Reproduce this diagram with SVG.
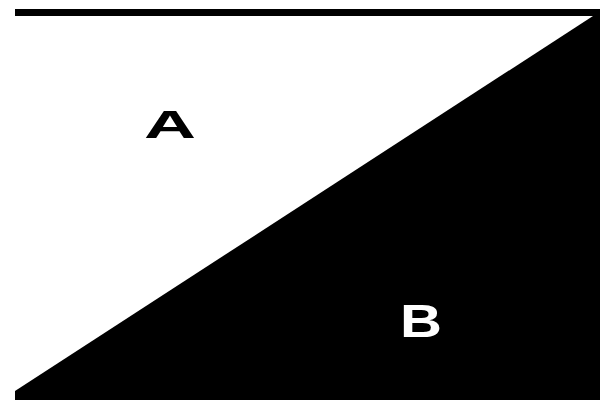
<svg xmlns="http://www.w3.org/2000/svg" width="600" height="406" viewBox="0 0 600 406">
<style>
.lbl{font-family:"Liberation Sans",Arial,sans-serif;font-weight:bold;text-anchor:middle}
</style>
<rect x="0" y="0" width="600" height="406" fill="#ffffff"/>
<g id="frame">
<rect x="15" y="9" width="585" height="391" fill="#000000"/>
<polygon points="15,16 593,16 15,391" fill="#ffffff"/>
</g>
<g id="A"><text class="lbl" x="170" y="138" font-size="39" textLength="52" lengthAdjust="spacingAndGlyphs" fill="#000000">A</text></g>
<g id="B"><text class="lbl" x="421" y="337" font-size="46" textLength="42" lengthAdjust="spacingAndGlyphs" fill="#ffffff">B</text></g>
</svg>
